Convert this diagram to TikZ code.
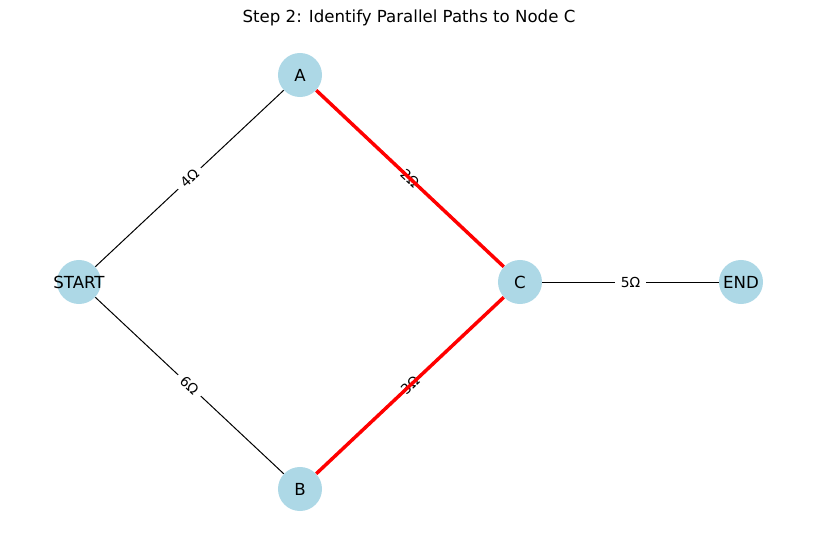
\documentclass[tikz,border=0pt]{standalone}
\usepackage{fontspec}
\setmainfont{DejaVu Sans}
\usetikzlibrary{positioning}

\newcommand{\vtxlabel}[1]{\makebox[0pt]{#1}}

\tikzset{
  junction/.style={circle, fill={rgb,255:red,173;green,216;blue,230}, minimum size=0.44in, inner sep=0pt, font=\fontsize{12}{14}\selectfont},
  wire/.style={draw=black, line width=0.72pt},
  hot/.style={draw=red, line width=2.5pt},
  ohm/.style={fill=white, inner xsep=4pt, inner ysep=2.5pt, font=\fontsize{10}{12}\selectfont, sloped}
}

\begin{document}
\begin{tikzpicture}[x=0.01in, y=-0.01in]
		\useasboundingbox (0,0) rectangle (819,542);
		\node[font=\fontsize{12}{14}\selectfont] (title) at (409,18) {Step 2: Identify Parallel Paths to Node C};

		\draw (79,282)  node[junction] (start) {\vtxlabel{START}}
		      (300,75)  node[junction] (a) {\vtxlabel{A}}
		      (300,489) node[junction] (b) {\vtxlabel{B}}
		      (520,282) node[junction] (c) {\vtxlabel{C}}
		      (741,282) node[junction] (end) {\vtxlabel{END}};

		\draw[wire] (start) -- (a) node[ohm, midway] {4Ω};
		\draw[wire] (start) -- (b) node[ohm, midway] {6Ω};
		\draw[wire] (c) -- (end) node[ohm, midway] {5Ω};
		\path (a) -- (c) node[ohm, midway] {2Ω};
		\path (b) -- (c) node[ohm, midway] {3Ω};

		% parallel branches into C
		\draw[hot] (a) -- (c);
		\draw[hot] (b) -- (c);
	\end{tikzpicture}
\end{document}
